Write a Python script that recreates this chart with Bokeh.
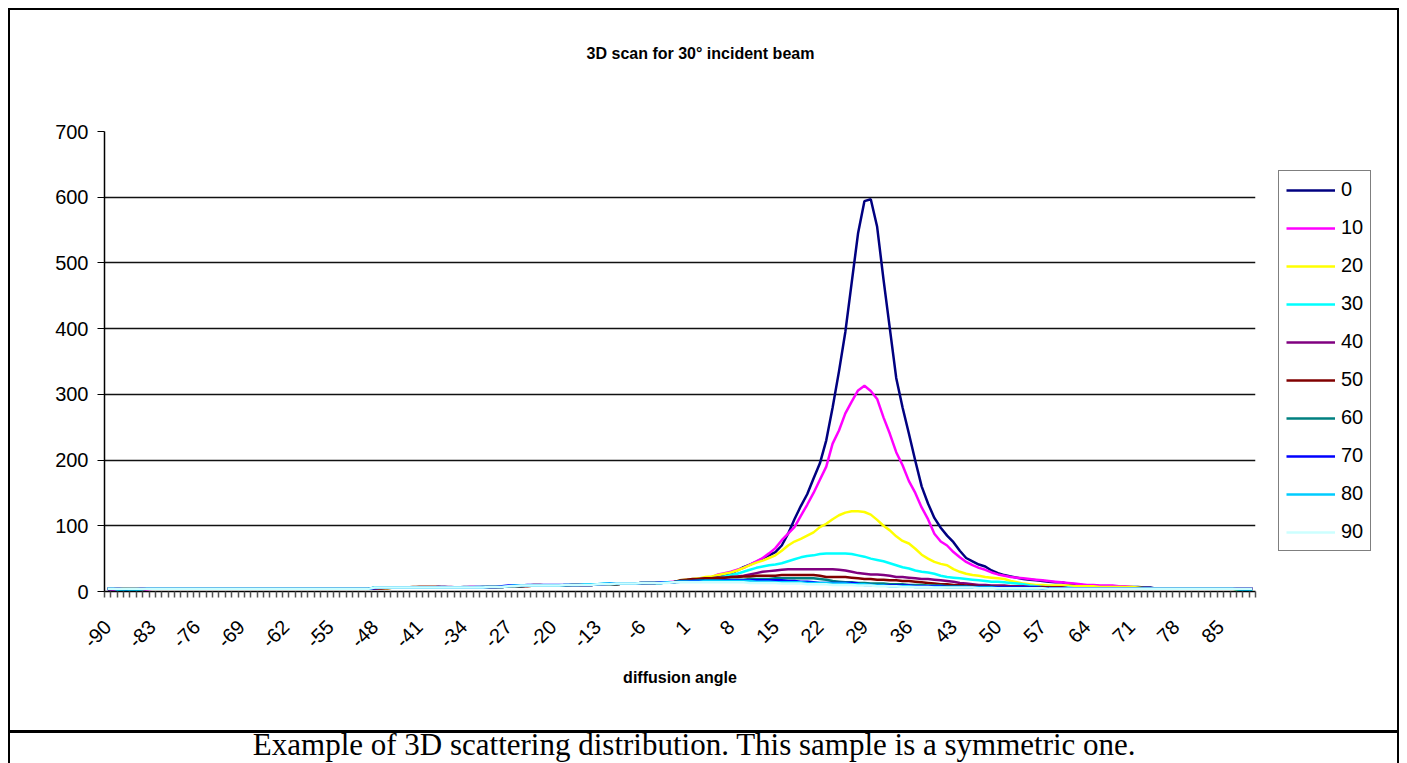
from math import pi
from bokeh.plotting import figure
from bokeh.models import Range1d, FixedTicker, Legend, LegendItem, Label
from bokeh.embed import file_html
from bokeh.resources import INLINE

# ---------------- data ----------------
angles = list(range(-90, 91))  # diffusion angle categories
series_names = ["0", "10", "20", "30", "40", "50", "60", "70", "80", "90"]
series_colors = ["#000080", "#FF00FF", "#FFFF00", "#00FFFF", "#800080",
                 "#800000", "#008080", "#0000FF", "#00CCFF", "#CCFFFF"]
x_tick_labels = [-90, -83, -76, -69, -62, -55, -48, -41, -34, -27, -20, -13,
                 -6, 1, 8, 15, 22, 29, 36, 43, 50, 57, 64, 71, 78, 85]
y_tick_values = [0, 100, 200, 300, 400, 500, 600, 700]

s0 = [3, 3, 2, 1, 1, 2, 4, 4, 4, 4, 4, 4, 4, 4, 4, 4, 4, 4, 4, 4, 4,
      4, 4, 4, 4, 4, 4, 4, 4, 4, 4, 4, 4, 4, 4, 4, 4, 4, 4, 4, 4, 4,
      5, 5, 6, 6, 6, 6, 6, 6, 6, 6, 6, 6, 6, 6, 7, 7, 7, 7, 7, 7, 7,
      8, 8, 8, 9, 9, 9, 9, 9, 9, 10, 10, 10, 10, 10,
      11, 11, 11, 11, 12, 12, 12,
      12, 13, 13, 13, 14, 14,
      16, 17, 18, 18, 19, 20, 22, 24, 27, 32,
      37, 41, 45, 50, 55, 60, 70, 88, 110, 130,
      148, 172, 195, 230, 280, 335, 395, 470, 545, 594,
      597, 555, 475, 400, 325, 280, 240, 199, 160, 134,
      112, 97, 85, 75, 62, 51, 46, 41, 38, 32,
      28, 25, 23, 21, 19, 18, 17, 16, 15, 14,
      14, 12, 11, 10, 9, 9, 8, 8, 7, 7,
      7, 7, 7, 6, 6, 4, 4, 4, 4, 4,
      4, 4, 4, 4, 4, 4, 4, 4, 4, 4,
      4]
s10 = [4, 3, 2, 1, 1, 2, 3, 4, 4, 4, 4, 4, 4, 4, 4, 4, 4, 4, 4, 4, 4,
       4, 4, 4, 4, 4, 4, 4, 4, 4, 4, 4, 4, 4, 4, 4, 4, 4, 4, 4, 4, 4,
       5, 6, 6, 6, 6, 6, 6, 6, 6, 6, 6, 6, 6, 6, 6, 7, 7, 7, 7, 7, 7,
       8, 8, 8, 9, 9, 9, 9, 9, 9, 10, 10, 10, 10, 10,
       11, 11, 11, 12, 12, 12, 12,
       13, 13, 13, 14, 14, 15,
       16, 17, 18, 19, 20, 22, 26, 28, 30, 33,
       36, 41, 46, 51, 58, 66, 78, 88, 98, 115,
       132, 150, 170, 190, 225, 245, 271, 289, 306, 313,
       305, 293, 265, 240, 212, 192, 168, 150, 128, 110,
       88, 76, 70, 60, 52, 45, 40, 36, 33, 29,
       26, 24, 22, 21, 20, 19, 18, 17, 16, 15,
       14, 13, 12, 11, 10, 10, 9, 9, 9, 8,
       8, 7, 5, 4, 4, 4, 4, 4, 4, 4,
       4, 4, 4, 4, 4, 4, 4, 4, 4, 4,
       4]
s20 = [4, 4, 4, 4, 3, 3, 4, 4, 4, 4, 4, 4, 4, 4, 4, 4, 4, 4, 4, 4, 4,
       4, 4, 4, 4, 4, 4, 4, 4, 4, 4, 4, 4, 4, 4, 4, 4, 4, 4, 4, 4, 4,
       5, 5, 5, 6, 6, 6, 7, 7, 7, 7, 7, 7, 6, 6, 6, 6, 6, 6, 7, 7, 7,
       8, 8, 8, 8, 9, 9, 9, 9, 9, 9, 10, 10, 10, 10,
       11, 11, 11, 11, 12, 12, 12,
       13, 13, 13, 14, 14, 14,
       17, 18, 19, 20, 22, 23, 25, 27, 29, 32,
       36, 40, 44, 47, 51, 55, 62, 70, 76, 80,
       85, 90, 98, 103, 110, 116, 120, 122, 122, 121,
       117, 109, 100, 93, 84, 77, 73, 65, 56, 50,
       45, 42, 40, 34, 30, 27, 25, 24, 22, 21,
       20, 19, 16, 14, 12, 11, 10, 10, 9, 9,
       9, 9, 8, 8, 8, 8, 7, 7, 7, 7,
       7, 7, 6, 5, 4, 4, 4, 4, 4, 4,
       4, 4, 4, 4, 4, 4, 4, 4, 2, 1,
       1]
s30 = [4, 4, 2, 2, 3, 3, 4, 4, 4, 4, 4, 4, 4, 4, 4, 4, 4, 4, 4, 4, 4,
       4, 4, 4, 4, 4, 4, 4, 4, 4, 4, 4, 4, 4, 4, 4, 4, 4, 4, 4, 4, 4,
       6, 6, 6, 6, 6, 6, 6, 6, 6, 6, 6, 6, 6, 6, 6, 6, 7, 7, 7, 7, 7,
       8, 8, 9, 9, 9, 9, 9, 9, 9, 10, 10, 10, 10, 10,
       11, 11, 11, 12, 12, 12, 12,
       13, 13, 13, 13, 14, 14,
       16, 17, 18, 18, 19, 20, 21, 23, 25, 27,
       30, 33, 36, 38, 40, 41, 43, 46, 49, 52,
       54, 55, 57, 58, 58, 58, 58, 57, 55, 53,
       50, 48, 46, 43, 40, 37, 35, 32, 30, 29,
       27, 24, 22, 21, 20, 19, 18, 17, 16, 15,
       15, 14, 13, 12, 11, 9, 8, 7, 7, 6,
       6, 6, 5, 5, 5, 5, 5, 5, 5, 5,
       5, 5, 4, 4, 4, 4, 4, 4, 4, 4,
       4, 4, 4, 4, 4, 4, 4, 4, 3, 1,
       1]
s40 = [4, 4, 4, 4, 4, 4, 4, 4, 4, 4, 4, 4, 4, 4, 4, 4, 4, 4, 4, 4, 4,
       4, 4, 4, 4, 4, 4, 4, 4, 4, 4, 4, 4, 4, 4, 4, 4, 4, 4, 4, 4, 4,
       5, 5, 6, 6, 6, 6, 7, 7, 7, 7, 7, 7, 7, 6, 6, 6, 6, 6, 6, 6, 7,
       8, 8, 8, 8, 9, 9, 9, 9, 9, 9, 10, 10, 10, 10,
       11, 11, 11, 11, 12, 12, 12,
       13, 13, 13, 14, 14, 14,
       16, 17, 18, 19, 20, 20, 21, 21, 22, 23,
       24, 26, 28, 30, 31, 32, 33, 34, 34, 34,
       34, 34, 34, 34, 34, 33, 32, 30, 28, 27,
       26, 26, 25, 24, 22, 22, 21, 20, 19, 19,
       18, 17, 16, 15, 13, 12, 11, 10, 10, 9,
       9, 9, 8, 8, 8, 7, 7, 7, 6, 6,
       6, 5, 5, 5, 5, 5, 5, 5, 5, 4,
       4, 4, 4, 4, 4, 4, 4, 4, 4, 4,
       4, 4, 4, 4, 4, 4, 4, 4, 4, 4,
       4]
s50 = [4, 4, 4, 4, 4, 4, 4, 4, 4, 4, 4, 4, 4, 4, 4, 4, 4, 4, 4, 4, 4,
       4, 4, 4, 4, 4, 4, 4, 4, 4, 4, 4, 4, 4, 4, 4, 4, 4, 4, 4, 4, 4,
       5, 5, 5, 6, 6, 6, 6, 7, 7, 7, 7, 6, 6, 6, 6, 6, 6, 6, 7, 7, 7,
       8, 8, 8, 9, 10, 10, 9, 9, 9, 9, 10, 10, 10, 10,
       11, 11, 11, 11, 12, 12, 12,
       13, 13, 13, 14, 14, 14,
       17, 18, 19, 19, 20, 20, 21, 21, 22, 22,
       23, 23, 24, 24, 24, 24, 25, 25, 25, 25,
       25, 25, 24, 22, 22, 22, 22, 21, 20, 19,
       19, 18, 18, 17, 17, 16, 16, 15, 14, 13,
       12, 11, 11, 10, 10, 9, 9, 8, 8, 8,
       7, 7, 7, 7, 6, 6, 6, 6, 6, 6,
       6, 5, 5, 5, 5, 5, 5, 5, 4, 4,
       4, 4, 4, 4, 4, 4, 4, 4, 4, 4,
       4, 4, 4, 4, 4, 4, 4, 4, 4, 4,
       4]
s60 = [4, 4, 4, 4, 4, 4, 4, 4, 4, 4, 4, 4, 4, 4, 4, 4, 4, 4, 4, 4, 4,
       4, 4, 4, 4, 4, 4, 4, 4, 4, 4, 4, 4, 4, 4, 4, 4, 4, 4, 4, 4, 4,
       6, 6, 6, 6, 6, 6, 6, 6, 6, 6, 6, 6, 6, 6, 6, 6, 6, 7, 7, 7, 7,
       8, 8, 8, 9, 9, 9, 9, 9, 9, 9, 10, 10, 10, 10,
       11, 11, 11, 11, 12, 12, 12,
       13, 13, 13, 13, 14, 14,
       16, 16, 16, 17, 17, 17, 17, 17, 18, 18,
       18, 19, 19, 19, 19, 20, 20, 20, 20, 20,
       20, 20, 19, 18, 16, 15, 14, 14, 13, 13,
       12, 12, 12, 11, 11, 11, 10, 10, 10, 9,
       9, 9, 8, 8, 8, 8, 7, 7, 7, 7,
       7, 6, 6, 6, 6, 6, 6, 5, 5, 5,
       5, 5, 5, 5, 5, 5, 4, 4, 4, 4,
       4, 4, 4, 4, 4, 4, 4, 4, 4, 4,
       4, 4, 4, 4, 4, 4, 4, 4, 4, 4,
       4]
s70 = [4, 4, 4, 3, 3, 4, 4, 4, 4, 4, 4, 4, 4, 4, 4, 4, 4, 4, 4, 4, 4,
       4, 4, 4, 4, 4, 4, 4, 4, 4, 4, 4, 4, 4, 4, 4, 4, 4, 4, 4, 4, 4,
       5, 6, 6, 6, 6, 6, 6, 6, 6, 6, 7, 7, 6, 6, 6, 6, 6, 6, 7, 7, 8,
       9, 9, 9, 10, 10, 10, 10, 10, 10, 10, 10, 10, 10, 10,
       11, 11, 12, 12, 12, 12, 12,
       13, 13, 13, 14, 14, 14,
       15, 15, 16, 16, 16, 16, 16, 17, 17, 17,
       17, 17, 17, 17, 17, 17, 17, 16, 16, 15,
       15, 14, 13, 13, 13, 13, 13, 13, 12, 10,
       10, 9, 9, 9, 9, 9, 9, 8, 8, 8,
       8, 8, 7, 7, 7, 7, 7, 7, 7, 7,
       6, 6, 6, 6, 6, 6, 6, 5, 5, 5,
       5, 5, 5, 5, 5, 5, 4, 4, 4, 4,
       4, 4, 4, 4, 4, 4, 4, 4, 4, 4,
       4, 4, 4, 4, 4, 4, 4, 4, 4, 4,
       4]
s80 = [4, 4, 3, 3, 2, 3, 4, 4, 4, 4, 4, 4, 4, 4, 4, 4, 4, 4, 4, 4, 4,
       4, 4, 4, 4, 4, 4, 4, 4, 4, 4, 4, 4, 4, 4, 4, 4, 4, 4, 4, 4, 4,
       6, 6, 6, 6, 6, 6, 6, 6, 6, 6, 6, 6, 6, 6, 6, 6, 6, 6, 7, 7, 7,
       8, 9, 9, 9, 9, 9, 9, 9, 9, 10, 10, 10, 11, 11,
       11, 12, 12, 12, 12, 12, 12,
       13, 13, 13, 13, 14, 14,
       15, 15, 15, 15, 16, 16, 16, 16, 16, 16,
       16, 16, 15, 15, 15, 14, 14, 14, 14, 14,
       13, 13, 13, 13, 12, 12, 12, 11, 11, 11,
       10, 9, 9, 8, 8, 8, 8, 7, 7, 7,
       7, 7, 6, 6, 6, 6, 6, 6, 6, 6,
       5, 5, 5, 5, 5, 5, 5, 5, 4, 4,
       4, 4, 4, 4, 4, 4, 4, 4, 4, 4,
       4, 4, 4, 4, 4, 4, 4, 4, 4, 4,
       4, 4, 4, 4, 4, 4, 4, 4, 3, 1,
       1]
s90 = [4, 4, 4, 4, 4, 4, 4, 4, 4, 4, 4, 4, 4, 4, 4, 4, 4, 4, 4, 4, 4,
       4, 4, 4, 4, 4, 4, 4, 4, 4, 4, 4, 4, 4, 4, 4, 4, 4, 4, 4, 4, 4,
       6, 6, 6, 6, 6, 6, 6, 6, 6, 6, 6, 6, 6, 6, 6, 6, 6, 6, 7, 7, 7,
       8, 8, 9, 9, 9, 9, 9, 9, 9, 10, 10, 10, 10, 10,
       11, 11, 11, 12, 12, 12, 12,
       13, 13, 13, 13, 13, 14,
       14, 14, 14, 14, 14, 14, 14, 14, 14, 14,
       14, 13, 13, 13, 13, 13, 12, 12, 12, 12,
       11, 11, 11, 11, 10, 10, 10, 10, 9, 9,
       9, 8, 8, 8, 8, 7, 7, 7, 7, 7,
       6, 6, 6, 6, 6, 6, 6, 5, 5, 5,
       5, 5, 5, 5, 5, 5, 5, 5, 4, 4,
       4, 4, 4, 4, 4, 4, 4, 4, 4, 4,
       4, 4, 4, 4, 4, 4, 4, 4, 4, 4,
       4, 4, 4, 4, 4, 4, 4, 4, 4, 4,
       4]

series_values = [s0, s10, s20, s30, s40, s50, s60, s70, s80, s90]
for s in series_values:
    assert len(s) == len(angles), len(s)

# ---------------- figure ----------------
FONT = "Liberation Sans"
FR_LEFT, FR_TOP = 104, 131          # page position of the plot frame

# chart box and caption box outlines drawn as CSS backgrounds of the host element
box_styles = {
    "background-color": "white",
    "background-image": ", ".join(["linear-gradient(#000, #000)"] * 4),
    "background-size": "1391px 2px, 2px 760px, 2px 760px, 1391px 3px",
    "background-position": "8px 8px, 8px 8px, 1397px 8px, 8px 730px",
    "background-repeat": "no-repeat",
}

p = figure(frame_width=1151, frame_height=460,
           x_range=Range1d(angles[0] - 0.5, angles[-1] + 0.5),
           y_range=Range1d(0, 700),
           output_backend="svg", toolbar_location=None,
           min_border_left=FR_LEFT, min_border_right=152,
           min_border_top=FR_TOP, min_border_bottom=172,
           styles=box_styles)
p.outline_line_color = None
p.background_fill_color = "white"
p.border_fill_color = None

# y axis
p.yaxis.ticker = FixedTicker(ticks=y_tick_values)
p.yaxis.axis_line_color = "black"
p.yaxis.axis_line_width = 1.5
p.yaxis.major_tick_line_color = "black"
p.yaxis.major_tick_out = 7
p.yaxis.major_tick_in = 0
p.yaxis.minor_tick_line_color = None
p.yaxis.major_label_text_font = FONT
p.yaxis.major_label_text_font_size = "20px"
p.yaxis.major_label_text_color = "black"
p.yaxis.major_label_standoff = 9
p.ygrid.ticker = FixedTicker(ticks=y_tick_values[1:])
p.ygrid.grid_line_color = "#111111"
p.ygrid.grid_line_width = 1.3
p.xgrid.grid_line_color = None

# x axis (category boundaries as tick marks)
boundaries = [a - 0.5 for a in angles] + [angles[-1] + 0.5]
p.xaxis.ticker = FixedTicker(ticks=x_tick_labels, minor_ticks=boundaries)
p.xaxis.major_label_overrides = {t: str(t) for t in x_tick_labels}
p.xaxis.axis_line_color = "black"
p.xaxis.axis_line_width = 1.5
p.xaxis.major_tick_line_color = None
p.xaxis.minor_tick_line_color = "#555555"
p.xaxis.minor_tick_out = 6
p.xaxis.minor_tick_in = 0
p.xaxis.minor_tick_line_width = 1.5
p.xaxis.major_label_orientation = pi / 4
p.xaxis.major_label_text_font = FONT
p.xaxis.major_label_text_font_size = "20px"
p.xaxis.major_label_text_color = "black"
p.xaxis.major_label_standoff = 26
p.xaxis.axis_label = "diffusion angle"
p.xaxis.axis_label_text_font = FONT
p.xaxis.axis_label_text_font_size = "16px"
p.xaxis.axis_label_text_font_style = "bold"
p.xaxis.axis_label_text_color = "black"
p.xaxis.axis_label_standoff = 12

# lines
items = []
for name, color, vals in zip(series_names, series_colors, series_values):
    r = p.line(angles, vals, line_color=color, line_width=2.5)
    items.append(LegendItem(label=name, renderers=[r]))

legend = Legend(items=items, location=(23, 40), orientation="vertical")
legend.border_line_color = "black"
legend.border_line_width = 1.3
legend.background_fill_color = "white"
legend.background_fill_alpha = 1
legend.label_text_font = FONT
legend.label_text_font_size = "20px"
legend.label_text_color = "black"
legend.glyph_width = 49
legend.glyph_height = 20
legend.label_height = 20
legend.label_standoff = 6
legend.spacing = 15
legend.padding = 7
legend.margin = 0
p.add_layout(legend, "right")

# chart title and caption (positions relative to their panels above the frame)
title = Label(x=700 - FR_LEFT, y=FR_TOP - 53, x_units="screen", y_units="screen",
              text="3D scan for 30° incident beam", text_align="center",
              text_baseline="middle", text_font=FONT, text_font_size="16px",
              text_font_style="bold", text_color="black")
p.add_layout(title, "above")
caption = Label(x=694 - FR_LEFT, y=FR_TOP - 16 - 745, x_units="screen", y_units="screen",
                text="Example of 3D scattering distribution. This sample is a symmetric one.",
                text_align="center", text_baseline="middle",
                text_font="Liberation Serif", text_font_size="31px", text_color="black")
p.add_layout(caption, "above")

open("out.html", "w").write(file_html(p, INLINE))
